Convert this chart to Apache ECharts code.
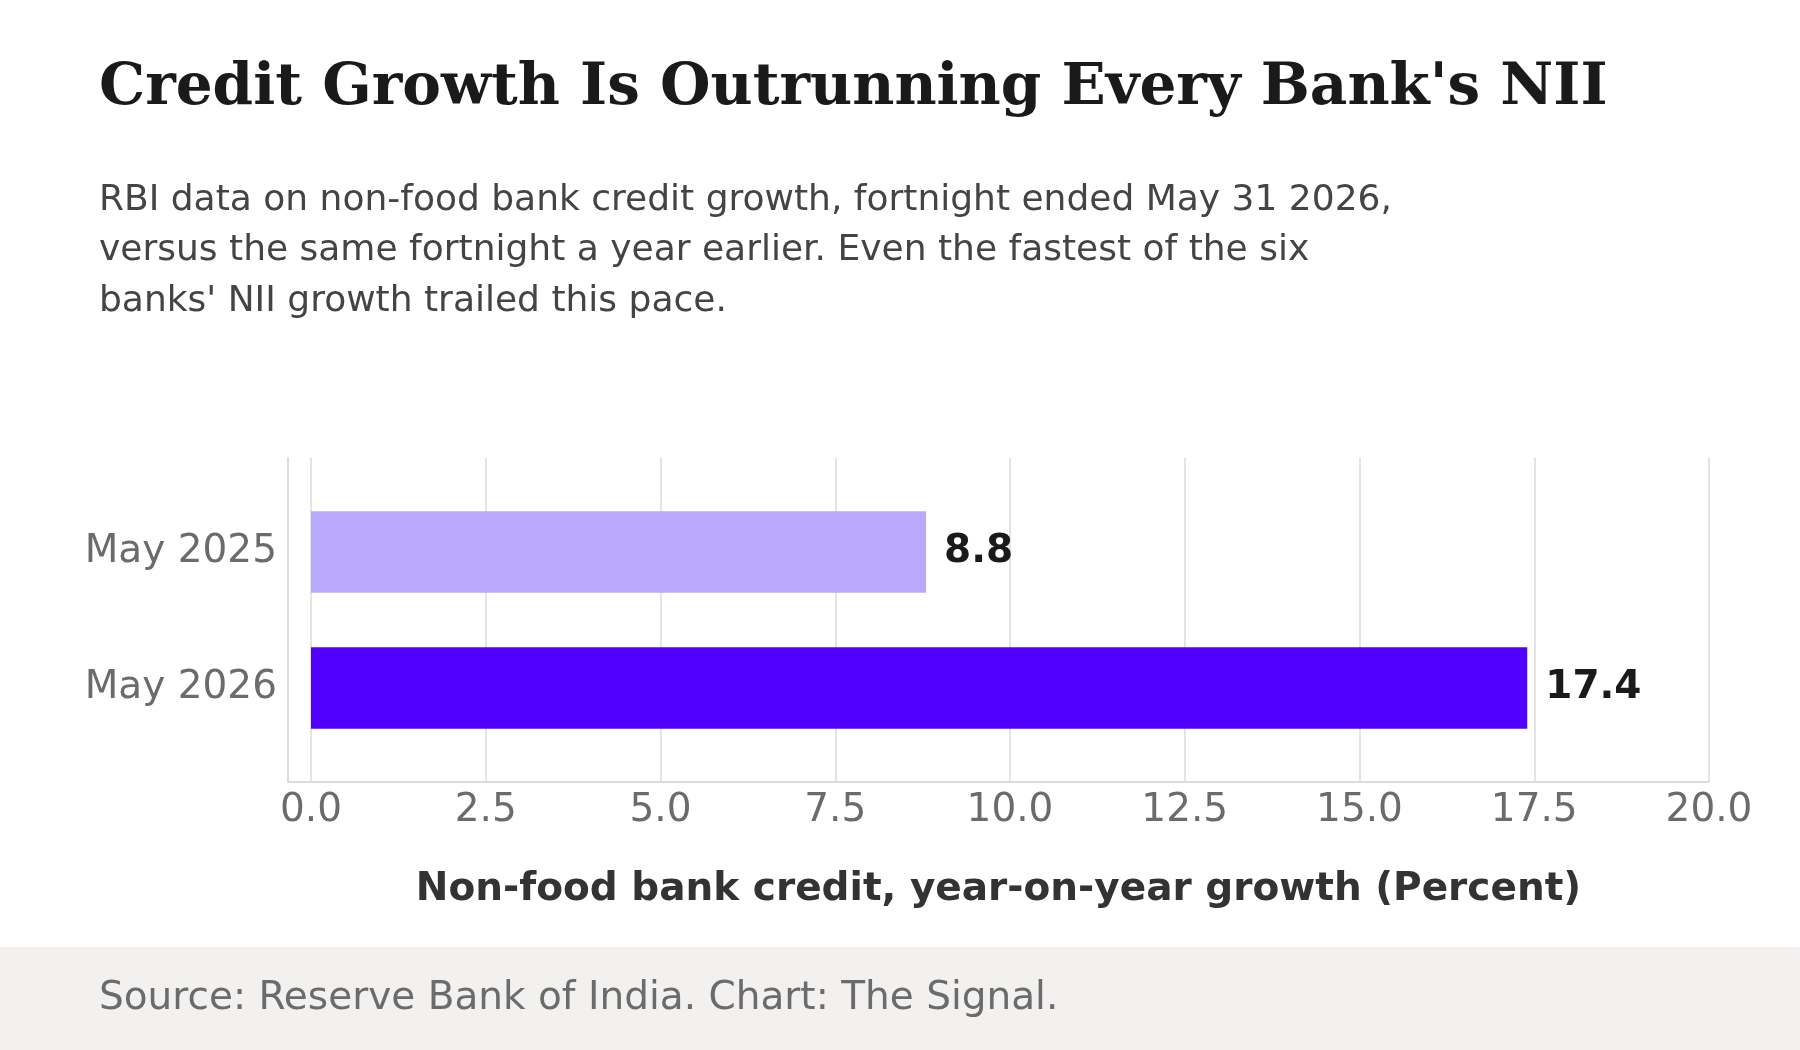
<!DOCTYPE html>
<html>
<head>
<meta charset="utf-8">
<script src="https://cdn.jsdelivr.net/npm/echarts@6/dist/echarts.min.js"></script>
<style>
html,body{margin:0;padding:0;background:#fff;}
#chart{width:1800px;height:1050px;}
</style>
</head>
<body>
<div id="chart"></div>
<script>
const categories = ['May 2025', 'May 2026'];
const growthValues = [8.8, 17.4];
const barColors = ['#B8A9FD', '#5000FF'];
const xTickMin = 0, xTickMax = 20, xTickStep = 2.5;

const titleText = "Credit Growth Is Outrunning Every Bank's NII";
const subtitleText = "RBI data on non-food bank credit growth, fortnight ended May 31 2026,\nversus the same fortnight a year earlier. Even the fastest of the six\nbanks' NII growth trailed this pace.";
const xAxisName = 'Non-food bank credit, year-on-year growth (Percent)';
const sourceText = 'Source: Reserve Bank of India. Chart: The Signal.';

const chart = echarts.init(document.getElementById('chart'), null, {renderer: 'canvas'});
const sans = 'DejaVu Sans';
const lineCol = '#DCDCD8';
const gridCol = '#E4E4E0';

chart.setOption({
  backgroundColor: '#ffffff',
  animation: false,
  graphic: [{
    type: 'rect', z: -10, silent: true,
    shape: {x: 0, y: 947, width: 1800, height: 103},
    style: {fill: '#F2F1F0'}
  }],
  title: [
    {text: titleText, left: 99, top: 60, padding: 0,
     textStyle: {fontFamily: 'DejaVu Serif', fontWeight: 'bold', fontSize: 58, color: '#1A1A1A', lineHeight: 58}},
    {text: subtitleText, left: 99, top: 175, padding: 0,
     textStyle: {fontFamily: sans, fontWeight: 'normal', fontSize: 36, color: '#444444', lineHeight: 50.5}},
    {text: sourceText, left: 99, top: 979, padding: 0,
     textStyle: {fontFamily: sans, fontWeight: 'normal', fontSize: 39, color: '#6B6B6B', lineHeight: 39}}
  ],
  grid: [
    {left: 288, right: 91, top: 458, bottom: 268},
    {left: 311, right: 91, top: 458, bottom: 268},
    {left: 311, right: 91, top: 484, bottom: 294}
  ],
  xAxis: [
    {gridIndex: 0, type: 'value', min: 0, max: 1, position: 'bottom',
     axisLine: {show: true, onZero: false, lineStyle: {color: lineCol, width: 2}},
     axisTick: {show: false}, axisLabel: {show: false}, splitLine: {show: false},
     name: xAxisName, nameLocation: 'middle', nameGap: 88,
     nameTextStyle: {fontFamily: sans, fontWeight: 'bold', fontSize: 39, color: '#333333'}},
    {gridIndex: 1, type: 'value', min: xTickMin, max: xTickMax, interval: xTickStep,
     axisLine: {show: false}, axisTick: {show: false},
     axisLabel: {show: true, fontFamily: sans, fontSize: 39, color: '#6B6B6B', margin: 9,
                 formatter: v => v.toFixed(1)},
     splitLine: {show: true, lineStyle: {color: gridCol, width: 2}}},
    {gridIndex: 2, type: 'value', min: xTickMin, max: xTickMax, show: false}
  ],
  yAxis: [
    {gridIndex: 0, type: 'value', min: 0, max: 1, position: 'left',
     axisLine: {show: true, onZero: false, lineStyle: {color: lineCol, width: 2}},
     axisTick: {show: false}, axisLabel: {show: false}, splitLine: {show: false}},
    {gridIndex: 1, type: 'value', show: false},
    {gridIndex: 2, type: 'category', data: categories, inverse: true,
     axisLine: {show: false}, axisTick: {show: false}, splitLine: {show: false},
     axisLabel: {fontFamily: sans, fontSize: 39, color: '#6B6B6B', margin: 34,
                 padding: [10, 0, 0, 0]}}
  ],
  series: [{
    type: 'bar', xAxisIndex: 2, yAxisIndex: 2, barWidth: '60%',
    data: growthValues.map((v, i) => ({value: v, itemStyle: {color: barColors[i]}})),
    label: {show: true, position: 'right', distance: 18, fontFamily: sans, fontWeight: 'bold',
            fontSize: 39, color: '#1A1A1A', formatter: p => p.value.toFixed(1)}
  }]
});
</script>
</body>
</html>
